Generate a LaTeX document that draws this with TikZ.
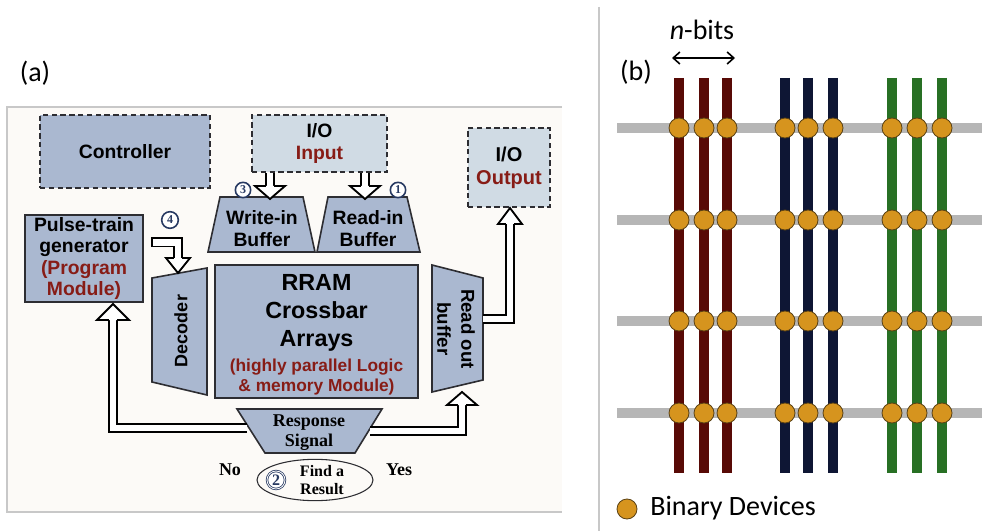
\documentclass[tikz,border=0pt]{standalone}
\usepackage{fontspec}
\setmainfont{Liberation Sans}
\newfontfamily\af{Liberation Sans}
\newfontfamily\tf{Liberation Serif}
\newfontfamily\cf{Carlito}
\usetikzlibrary{calc,arrows.meta,shapes.geometric}
\definecolor{boxc}{RGB}{170,184,208}
\definecolor{ioc}{RGB}{208,219,228}
\definecolor{dred}{RGB}{135,28,22}
\definecolor{circc}{RGB}{40,58,98}
\definecolor{edgec}{RGB}{45,45,50}
\definecolor{bgA}{RGB}{252,250,247}
\definecolor{framec}{RGB}{200,200,200}
\definecolor{wirec}{RGB}{182,182,182}
\definecolor{redw}{RGB}{88,10,6}
\definecolor{navyw}{RGB}{14,22,52}
\definecolor{greenw}{RGB}{40,112,36}
\definecolor{devc}{RGB}{214,148,30}
\definecolor{devd}{RGB}{90,65,20}
\tikzset{
  dbox/.style={draw=edgec, line width=1.5pt, dash pattern=on 4pt off 2.6pt, inner sep=0pt, align=center, font=\af\bfseries\fontsize{14.5}{16.5}\selectfont},
  sbox/.style={draw=edgec, line width=1.2pt, fill=boxc, inner sep=0pt, align=center},
  shapeline/.style={draw=edgec, line width=1.2pt, fill=boxc, line join=miter},
  boxtxt/.style={align=center, inner sep=0pt, font=\af\bfseries\fontsize{14.5}{16.5}\selectfont},
  numc/.style={circle, draw=circc, fill=white, line width=1.2pt, minimum size=11.5pt, inner sep=0pt, text=circc, font=\tf\bfseries\fontsize{9}{9}\selectfont},
  shaft/.style={draw=black, line width=1.4pt, double=white, double distance=4.7pt, line join=miter},
  pics/hhead/.style args={#1/#2/#3}{code={
    \filldraw[fill=white, draw=black, line width=1.4pt, line join=miter]
      (-#1,-#3) -- (-#2,-#3) -- (0,0) -- (#2,-#3) -- (#1,-#3);}},
  wire/.style={line width=7.5pt},
  dev/.style={circle, fill=devc, draw=devd, line width=0.6pt, minimum size=15pt, inner sep=0pt},
  lbl/.style={font=\cf\fontsize{21}{24}\selectfont, inner sep=0pt}
}
\begin{document}
\begin{tikzpicture}[x=0.75pt,y=-0.75pt]
\useasboundingbox (0,0) rectangle (982,531);
\fill[white] (0,0) rectangle (982,531);

% ---------- panel (a) ----------
\node[lbl] (la) at (35,73) {(a)};
\fill[bgA] (7,107) rectangle (562,512);
\draw[framec, line width=0.9pt] (562,107) -- (7,107) -- (7,512) -- (562,512);

\node[dbox, fill=boxc, minimum width=127.5pt, minimum height=54.75pt] (ctrl) at (125,151.5) {Controller};
\node[dbox, fill=ioc, minimum width=101.25pt, minimum height=42.75pt] (ioin) at (319.5,143.5) {I/O\\\textcolor{dred}{Input}};
\node[dbox, fill=ioc, minimum width=61.5pt, minimum height=59.25pt, font=\af\bfseries\fontsize{15}{17}\selectfont] (ioout) at (509,167.5) {I/O\\\textcolor{dred}{Output}};

% buffers
\draw[shapeline] (208,252) -- (220,197) -- (303,197) -- (315,252) -- cycle;
\node[boxtxt] (wib) at (262,229) {Write-in\\Buffer};
\draw[shapeline] (317,252) -- (328,197) -- (407,197) -- (420,252) -- cycle;
\node[boxtxt] (rib) at (368,229) {Read-in\\Buffer};

% pulse-train generator
\node[sbox, minimum width=88.5pt, minimum height=65.25pt, font=\af\bfseries\fontsize{14.5}{16}\selectfont] (ptg) at (84,258.5)
  {Pulse-train\\generator\\\textcolor{dred}{(Program}\\\textcolor{dred}{Module)}};

% RRAM
\node[sbox, minimum width=152.25pt, minimum height=99.75pt] (rram) at (316.5,331.5) {};
\node[boxtxt, font=\af\bfseries\fontsize{17.5}{21}\selectfont] (rramt) at (316.5,313) {RRAM\\Crossbar\\Arrays};
\node[boxtxt, text=dred, font=\af\bfseries\fontsize{13}{15}\selectfont] (rramr) at (316.5,377) {(highly parallel Logic\\\& memory Module)};

% decoder
\draw[shapeline] (152,278) -- (207,268) -- (207,395) -- (152,382) -- cycle;
\node[boxtxt, rotate=90, font=\af\bfseries\fontsize{13.5}{16}\selectfont] (dec) at (181,331) {Decoder};

% read out buffer
\draw[shapeline] (432,265) -- (483,278) -- (483,380) -- (432,392) -- cycle;
\node[boxtxt, rotate=-90, font=\af\bfseries\fontsize{14}{18}\selectfont] (rob) at (456,329) {Read out\\buffer};

% response signal
\draw[shapeline] (237,409) -- (382,409) -- (355,453) -- (265,453) -- cycle;
\node[boxtxt, font=\tf\bfseries\fontsize{13.5}{15}\selectfont] (resp) at (309,433) {Response\\Signal};

% find a result
\node[ellipse, draw=edgec, line width=0.8pt, minimum width=87pt, minimum height=31pt, inner sep=0pt] (find) at (315,480) {};
\node[boxtxt, font=\tf\bfseries\fontsize{12}{14}\selectfont] (findt) at (322,480) {Find a\\Result};
\node[numc, minimum size=13.5pt, double=white, double distance=0.6pt, line width=0.6pt, font=\tf\bfseries\fontsize{12}{12}\selectfont] (n2) at (276,480) {2};
\node[boxtxt, font=\tf\bfseries\fontsize{13.5}{15}\selectfont] (no) at (230,470) {No};
\node[boxtxt, font=\tf\bfseries\fontsize{13.5}{15}\selectfont] (yes) at (399,470) {Yes};

% step numbers
\node[numc] (n3) at (243,190) {3};
\node[numc] (n1) at (398,190) {1};
\node[numc, minimum size=12.5pt] (n4) at (170,220) {4};

% hollow arrows
\coordinate (wa) at (270,199);
\draw[shaft] (ioin.south -| wa) -- ($(wa)+(0,-12.5)$);
\pic at (wa) {hhead=4.07/15/13};

\coordinate (ra) at (365,199);
\draw[shaft] (ioin.south -| ra) -- ($(ra)+(0,-12.5)$);
\pic at (ra) {hhead=4.07/15/13};

\coordinate (s4) at (152,242.5);
\coordinate (da) at (178,273);
\draw[shaft] (s4) -| ($(da)+(0,-14.5)$);
\draw[line width=1.4pt] ($(s4)+(0,-5)$) -- ($(s4)+(0,5)$);
\pic at (da) {hhead=4.07/12/15};

\coordinate (ro) at (483,319);
\coordinate (oa) at (510,208);
\draw[shaft] (ro) -| ($(oa)+(0,15.5)$);
\pic[rotate=180] at (oa) {hhead=4.07/12/16};

\coordinate (rl) at (247,428);
\coordinate (pa) at (113,304);
\draw[shaft] (rl) -| ($(pa)+(0,15.5)$);
\pic[rotate=180] at (pa) {hhead=4.07/16/16};

\coordinate (rr) at (370,431);
\coordinate (ba) at (462,392);
\draw[shaft] (rr) -| ($(ba)+(0,12.5)$);
\pic[rotate=180] at (ba) {hhead=4.07/15/13};

% ---------- panel (b) ----------
\draw[framec, line width=0.9pt] (599,7) -- (599,531);
\node[lbl] (lb) at (636,72) {(b)};
\node[lbl] (nb) at (702,30) {\textit{n}-bits};
\coordinate (nbl) at (672,58);
\coordinate (nbr) at (735,58);
\draw[line width=1.2pt, {Straight Barb[length=5pt,width=9pt]}-{Straight Barb[length=5pt,width=9pt]}] (nbl) -- (nbr);

\foreach \y in {128,220,321,413} \draw[wire, wirec] (617,\y) -- (982,\y);
\foreach \x in {679,704,727} \draw[wire, redw] (\x,78) -- (\x,473);
\foreach \x in {785,808,833} \draw[wire, navyw] (\x,78) -- (\x,473);
\foreach \x in {892,917,942} \draw[wire, greenw] (\x,78) -- (\x,473);
\foreach \y in {128,220,321,413}
  \foreach \x in {679,704,727,785,808,833,892,917,942}
    \node[dev] at (\x,\y) {};

\node[dev] (legdev) at (627,509) {};
\node[lbl, anchor=west] (legtxt) at (650,508) {Binary Devices};
\end{tikzpicture}
\end{document}
